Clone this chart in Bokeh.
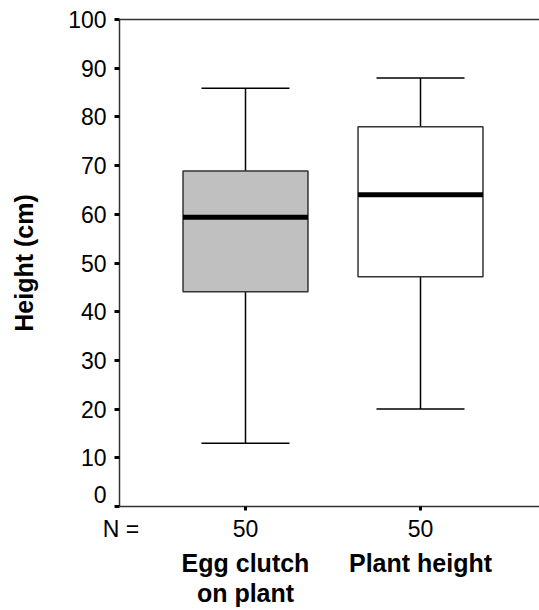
from bokeh.plotting import figure
from bokeh.models import LinearAxis, FixedTicker, Range1d, ColumnDataSource
from bokeh.embed import file_html
from bokeh.resources import INLINE

# ---- data ----
groups = ["Egg clutch\non plant", "Plant height"]
n_values = [50, 50]
n_caption = "N ="
whisker_low = [13.0, 20.0]
q1 = [44.1, 47.2]
median = [59.4, 64.0]
q3 = [68.9, 78.0]
whisker_high = [85.9, 88.0]
fills = ["#c0c0c0", "#ffffff"]
y_ticks = [0, 10, 20, 30, 40, 50, 60, 70, 80, 90, 100]
y_tick_labels = ["0", "10", "20", "30", "40", "50", "60", "70", "80", "90", "100"]
positions = [1, 2]

# ---- layout / style constants ----
FONT = "Liberation Sans"
BOX_W = 0.714
CAP_W = 0.503
X_START, X_END = 0.28, 2.68
ZERO_LABEL_RAISE = 2.5      # the "0" tick label sits a little above its tick
N_CAPTION_X = 0.289         # x position of the "N =" caption

p = figure(width=539, height=610, output_backend="svg", toolbar_location=None,
           x_range=Range1d(X_START, X_END), y_range=Range1d(0, 100),
           min_border_left=119, min_border_right=0, min_border_top=19,
           min_border_bottom=103,
           x_axis_location=None, y_axis_location=None)
p.outline_line_color = None
p.xgrid.visible = False
p.ygrid.visible = False
p.background_fill_color = "white"
p.border_fill_color = "white"


def bare_axis(ax):
    ax.minor_tick_line_color = None
    ax.minor_tick_out = 0
    ax.minor_tick_in = 0
    ax.major_tick_in = 0
    return ax


# left axis line + ticks
yax = bare_axis(LinearAxis(ticker=FixedTicker(ticks=y_ticks),
                           major_label_overrides={t: "" for t in y_ticks}))
yax.axis_line_color = "#333333"
yax.axis_line_width = 1.5
yax.major_tick_line_color = "black"
yax.major_tick_line_width = 3
yax.major_tick_out = 5
yax.major_label_text_font_size = "0px"
yax.major_label_standoff = 0
p.add_layout(yax, "left")

# left tick labels + axis title
y_label_pos = [t + (ZERO_LABEL_RAISE if t == 0 else 0) for t in y_ticks]
ylab = bare_axis(LinearAxis(ticker=FixedTicker(ticks=y_label_pos),
                            major_label_overrides={pos: lab for pos, lab in zip(y_label_pos, y_tick_labels)},
                            axis_label="Height (cm)"))
ylab.axis_line_color = None
ylab.major_tick_line_color = None
ylab.major_tick_out = 0
ylab.major_label_text_font = FONT
ylab.major_label_text_font_size = "23px"
ylab.major_label_text_color = "black"
ylab.major_label_standoff = 8
ylab.axis_label_text_font = FONT
ylab.axis_label_text_font_style = "bold"
ylab.axis_label_text_font_size = "25px"
ylab.axis_label_text_color = "black"
ylab.axis_label_standoff = 27
p.add_layout(ylab, "left")

# top line
tax = bare_axis(LinearAxis(ticker=FixedTicker(ticks=[])))
tax.axis_line_color = "#333333"
tax.axis_line_width = 1.5
tax.major_tick_line_color = None
tax.major_tick_out = 0
tax.major_label_text_font_size = "0px"
tax.major_label_standoff = 0
p.add_layout(tax, "above")

# bottom axis line + ticks
xax = bare_axis(LinearAxis(ticker=FixedTicker(ticks=positions),
                           major_label_overrides={pos: "" for pos in positions}))
xax.axis_line_color = "#333333"
xax.axis_line_width = 1.5
xax.major_tick_line_color = "black"
xax.major_tick_line_width = 3
xax.major_tick_out = 4
xax.major_label_text_font_size = "0px"
xax.major_label_standoff = 0
p.add_layout(xax, "below")

# bottom: N row
n_pos = [N_CAPTION_X] + positions
n_labels = [n_caption] + [str(n) for n in n_values]
nax = bare_axis(LinearAxis(ticker=FixedTicker(ticks=n_pos),
                           major_label_overrides={pos: lab for pos, lab in zip(n_pos, n_labels)}))
nax.axis_line_color = None
nax.major_tick_line_color = None
nax.major_tick_out = 0
nax.major_label_text_font = FONT
nax.major_label_text_font_size = "23px"
nax.major_label_text_color = "black"
nax.major_label_standoff = 5
p.add_layout(nax, "below")

# bottom: group names
gax = bare_axis(LinearAxis(ticker=FixedTicker(ticks=positions),
                           major_label_overrides={pos: g for pos, g in zip(positions, groups)}))
gax.axis_line_color = None
gax.major_tick_line_color = None
gax.major_tick_out = 0
gax.major_label_text_font = FONT
gax.major_label_text_font_style = "bold"
gax.major_label_text_font_size = "25px"
gax.major_label_text_color = "black"
gax.major_label_text_line_height = 1.1
gax.major_label_standoff = 4
p.add_layout(gax, "below")

src = ColumnDataSource(dict(
    x=positions,
    cap_l=[x - CAP_W / 2 for x in positions],
    cap_r=[x + CAP_W / 2 for x in positions],
    box_l=[x - BOX_W / 2 for x in positions],
    box_r=[x + BOX_W / 2 for x in positions],
    lo=whisker_low, q1=q1, med=median, q3=q3, hi=whisker_high, fill=fills,
))

# whiskers
p.segment(x0="x", y0="q3", x1="x", y1="hi", source=src, line_color="black", line_width=1.5)
p.segment(x0="x", y0="q1", x1="x", y1="lo", source=src, line_color="black", line_width=1.5)
p.segment(x0="cap_l", y0="hi", x1="cap_r", y1="hi", source=src, line_color="black", line_width=1.5)
p.segment(x0="cap_l", y0="lo", x1="cap_r", y1="lo", source=src, line_color="black", line_width=1.5)
# boxes
p.quad(left="box_l", right="box_r", bottom="q1", top="q3", source=src,
       fill_color="fill", line_color="#333333", line_width=1.5)
# medians
p.segment(x0="box_l", y0="med", x1="box_r", y1="med", source=src,
          line_color="black", line_width=5, line_cap="butt")

open("out.html", "w").write(file_html(p, INLINE))
